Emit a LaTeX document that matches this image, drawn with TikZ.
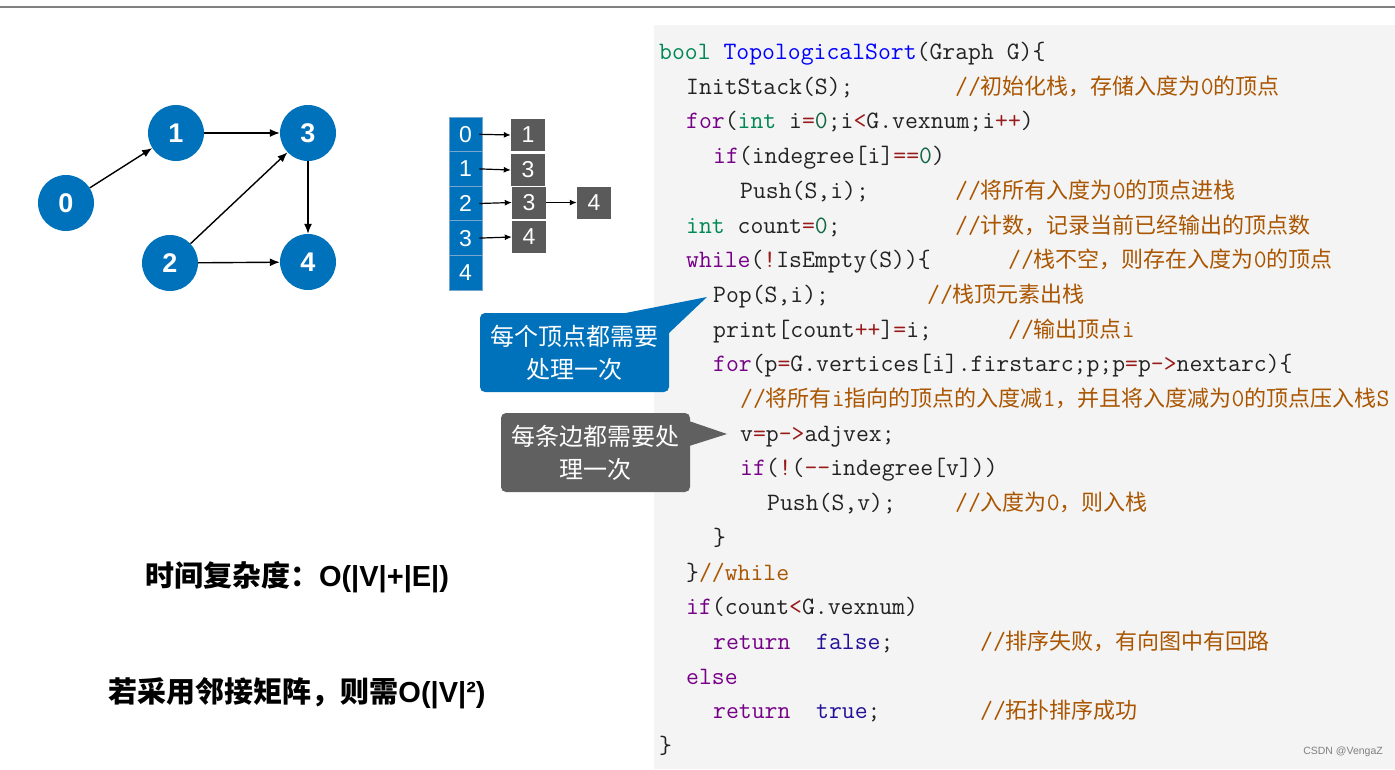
\documentclass[tikz,border=0pt]{standalone}
\usepackage{fontspec}
\usetikzlibrary{arrows.meta}
\newfontfamily\cjk{Noto Sans CJK SC}
\newfontfamily\sans{Liberation Sans}
\definecolor{nodeblue}{RGB}{0,114,188}
\definecolor{sepblue}{RGB}{120,165,205}
\definecolor{boxgray}{RGB}{90,90,90}
\definecolor{callgray}{RGB}{96,96,96}
\definecolor{codebg}{RGB}{244,244,244}
\definecolor{codeblack}{RGB}{34,34,34}
\definecolor{kwc}{RGB}{119,0,136}
\definecolor{tyc}{RGB}{0,136,85}
\definecolor{fnc}{RGB}{0,0,255}
\definecolor{numc}{RGB}{17,102,68}
\definecolor{atomc}{RGB}{34,17,153}
\definecolor{opc}{RGB}{152,26,26}
\definecolor{cmtc}{RGB}{170,85,0}
\definecolor{topgray}{RGB}{128,128,128}
\newcommand\kw[1]{\textcolor{kwc}{#1}}
\newcommand\ty[1]{\textcolor{tyc}{#1}}
\newcommand\fn[1]{\textcolor{fnc}{#1}}
\newcommand\nm[1]{\textcolor{numc}{#1}}
\newcommand\at[1]{\textcolor{atomc}{#1}}
\newcommand\op[1]{\textcolor{opc}{#1}}
\newcommand\tc[1]{{\ttfamily\fontsize{25}{25}\selectfont #1}}
\newcommand\cmtx[1]{\textcolor{cmtc}{#1}}
\begin{document}
\begin{tikzpicture}[x=1pt,y=-1pt,
  gnode/.style={circle,fill=nodeblue,text=white,minimum size=56pt,inner sep=0pt,font=\sans\bfseries\fontsize{27}{27}\selectfont},
  garrow/.style={line width=1.4pt,-{Latex[length=10pt,width=8pt]}},
  cell/.style={rectangle,fill=nodeblue,draw=sepblue,line width=0.8pt,minimum width=33pt,minimum height=34.6pt,inner sep=0pt,text=white,font=\sans\fontsize{23}{23}\selectfont},
  gbox/.style={rectangle,fill=boxgray,minimum width=34pt,minimum height=32pt,inner sep=0pt,text=white,font=\sans\fontsize{23}{23}\selectfont},
  larrow/.style={line width=1.2pt,-{Latex[length=7pt,width=6pt]}},
  codeline/.style={anchor=base west,inner sep=0pt,text=codeblack,font=\ttfamily\fontsize{25}{25}\selectfont},
  comment/.style={anchor=base west,inner sep=0pt,text=cmtc,font=\cjk\fontsize{22}{22}\selectfont},
  callout/.style={rectangle,rounded corners=5pt,minimum width=189pt,minimum height=79pt,inner sep=0pt,text=white,align=center,font=\cjk\fontsize{24}{33}\selectfont},
  bigtext/.style={inner sep=0pt,text=black,font=\fontsize{29}{29}\selectfont}
]
\useasboundingbox (0,0) rectangle (1395,769);
\fill[white] (0,0) rectangle (1395,769);
\fill[codebg] (654,25) rectangle (1395,769);
\draw[topgray,line width=2pt] (0,7) -- (1395,7);

% graph
\node[gnode] (n0) at (66,203) {0};
\node[gnode] (n1) at (176,133) {1};
\node[gnode] (n3) at (308,133) {3};
\node[gnode] (n2) at (170,263) {2};
\node[gnode] (n4) at (308,262) {4};
\draw[garrow] (n0) -- (n1);
\draw[garrow] (n1) -- (n3);
\draw[garrow] (n2) -- (n3);
\draw[garrow] (n2) -- (n4);
\draw[garrow] (n3) -- (n4);

% adjacency list
\node[cell] (a0) at (465.5,134.3) {0};
\node[cell] (a1) at (465.5,168.9) {1};
\node[cell] (a2) at (465.5,203.5) {2};
\node[cell] (a3) at (465.5,238.1) {3};
\node[cell] (a4) at (465.5,272.7) {4};
\node[gbox] (b0) at (528,135) {1};
\node[gbox] (b1) at (528,170) {3};
\node[gbox] (b2) at (529,202.5) {3};
\node[gbox] (b2b) at (594,202.5) {4};
\node[gbox] (b3) at (529,237) {4};
\draw[larrow] ([xshift=-3pt]a0.east) -- (b0.west);
\draw[larrow] ([xshift=-3pt]a1.east) -- (b1.west);
\draw[larrow] ([xshift=-3pt]a2.east) -- (b2.west);
\draw[larrow] (b2.east) -- (b2b.west);
\draw[larrow] ([xshift=-3pt]a3.east) -- (b3.west);

% code
\node[codeline] (c0) at (659,59.5) {\ty{bool} \fn{TopologicalSort}(Graph G)\{};
\node[codeline] (c1) at (686,94.2) {InitStack(S);};
\node[comment] (m1) at (955,94.2) {\tc{//}初始化栈，存储入度为\tc{0}的顶点};
\node[codeline] (c2) at (686,128.9) {\kw{for}(\ty{int} i\op{=}\nm{0};i\op{<}G.vexnum;i\op{++})};
\node[codeline] (c3) at (713,163.6) {\kw{if}(indegree[i]\op{==}\nm{0})};
\node[codeline] (c4) at (740,198.3) {Push(S,i);};
\node[comment] (m4) at (955,198.3) {\tc{//}将所有入度为\tc{0}的顶点进栈};
\node[codeline] (c5) at (686,233.0) {\ty{int} count\op{=}\nm{0};};
\node[comment] (m5) at (955,233.0) {\tc{//}计数，记录当前已经输出的顶点数};
\node[codeline] (c6) at (686,267.7) {\kw{while}(\op{!}IsEmpty(S))\{};
\node[comment] (m6) at (1008,267.7) {\tc{//}栈不空，则存在入度为\tc{0}的顶点};
\node[codeline] (c7) at (713,302.4) {Pop(S,i);};
\node[comment] (m7) at (927,302.4) {\tc{//}栈顶元素出栈};
\node[codeline] (c8) at (713,337.1) {print[count\op{++}]\op{=}i;};
\node[comment] (m8) at (1008,337.1) {\tc{//}输出顶点\tc{i}};
\node[codeline] (c9) at (713,371.8) {\kw{for}(p\op{=}G.vertices[i].firstarc;p;p\op{=}p\op{->}nextarc)\{};
\node[comment] (m10) at (740,406.5) {\tc{//}将所有\tc{i}指向的顶点的入度减\tc{1}，并且将入度减为\tc{0}的顶点压入栈\tc{S}};
\node[codeline] (c11) at (740,441.2) {v\op{=}p\op{->}adjvex;};
\node[codeline] (c12) at (740,475.9) {\kw{if}(\op{!}(\op{-{}-}indegree[v]))};
\node[codeline] (c13) at (767,510.6) {Push(S,v);};
\node[comment] (m13) at (955,510.6) {\tc{//}入度为\tc{0}，则入栈};
\node[codeline] (c14) at (713,545.3) {\}};
\node[codeline] (c15) at (686,580.0) {\}\cmtx{//while}};
\node[codeline] (c16) at (686,614.7) {\kw{if}(count\op{<}G.vexnum)};
\node[codeline] (c17) at (713,649.4) {\kw{return}\ \ \at{false};};
\node[comment] (m17) at (980,649.4) {\tc{//}排序失败，有向图中有回路};
\node[codeline] (c18) at (686,684.1) {\kw{else}};
\node[codeline] (c19) at (713,718.8) {\kw{return}\ \ \at{true};};
\node[comment] (m19) at (980,718.8) {\tc{//}拓扑排序成功};
\node[codeline] (c20) at (659,753.5) {\}};

% callouts
\fill[nodeblue] (623,313.5) -- (707,297) -- (669,333) -- (650,333) -- (623,322) -- cycle;
\node[callout,fill=nodeblue] (cb) at (574.5,352.5) {每个顶点都需要\\处理一次};
\fill[callgray] (686,420) -- (727,434) -- (686,447) -- cycle;
\node[callout,fill=callgray] (cg) at (595.5,452.5) {每条边都需要处\\理一次};

% bottom texts
\node[bigtext] (t1) at (297,577) {{\cjk\bfseries 时间复杂度：}{\sans\bfseries O(|V|+|E|)}};
\node[bigtext] (t2) at (297,693) {{\cjk\bfseries 若采用邻接矩阵，则需}{\sans\bfseries O(|V|²)}};

\node[inner sep=0pt,text=gray,font=\sans\fontsize{10.5}{10.5}\selectfont] (wm) at (1343,752) {CSDN @VengaZ};
\end{tikzpicture}
\end{document}
